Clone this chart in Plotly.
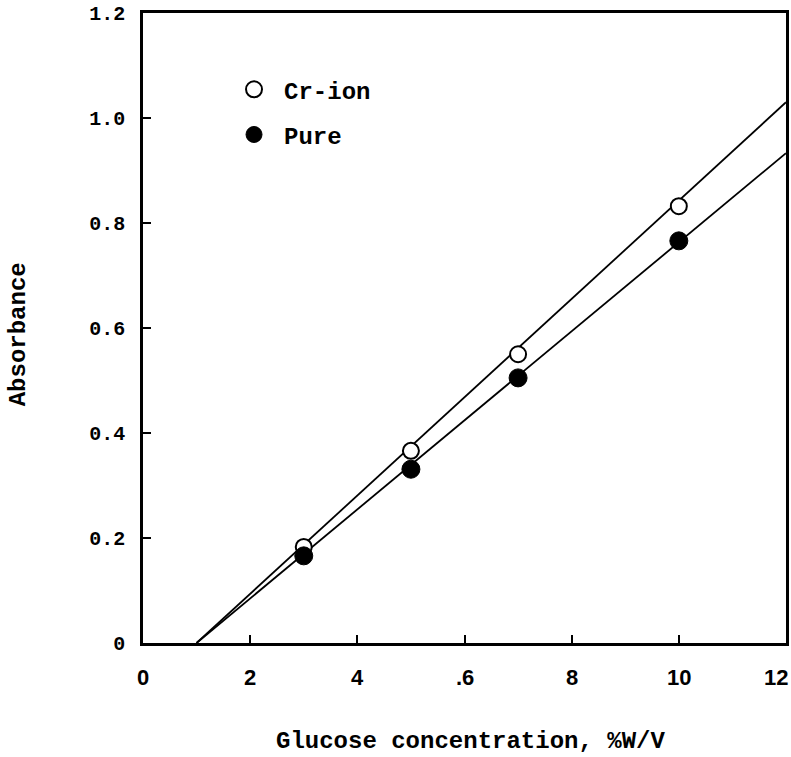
import plotly.graph_objects as go

# Data
conc = [3, 5, 7, 10]
cr_ion = [0.183, 0.366, 0.550, 0.832]
pure = [0.166, 0.331, 0.505, 0.766]

# Fitted lines (regression) endpoints
fit_x = [1.0, 12.0]
cr_fit_y = [0.0, 1.03]
pure_fit_y = [0.0, 0.933]

x_ticks = [0, 2, 4, 6, 8, 10, 12]
x_tick_labels = ["0", "2", "4", ".6", "8", "10", "12"]
y_ticks = [0, 0.2, 0.4, 0.6, 0.8, 1.0, 1.2]
y_tick_labels = ["0", "0.2", "0.4", "0.6", "0.8", "1.0", "1.2"]

MONO = "Liberation Mono"
SANS = "Liberation Sans"

fig = go.Figure()
fig.add_trace(go.Scatter(x=fit_x, y=cr_fit_y, mode="lines",
                         line=dict(color="black", width=1.8), showlegend=False, hoverinfo="skip"))
fig.add_trace(go.Scatter(x=fit_x, y=pure_fit_y, mode="lines",
                         line=dict(color="black", width=1.8), showlegend=False, hoverinfo="skip"))
fig.add_trace(go.Scatter(x=conc, y=cr_ion, mode="markers", name="Cr-ion",
                         legendgroup="a",
                         marker=dict(symbol="circle", size=16, color="white",
                                     line=dict(color="black", width=2))))
fig.add_trace(go.Scatter(x=conc, y=pure, mode="markers", name="Pure",
                         legendgroup="b",
                         marker=dict(symbol="circle", size=18, color="black",
                                     line=dict(color="black", width=1))))

# x tick labels as annotations (last one sits inside the right edge as in the original)
annotations = []
for i, (v, t) in enumerate(zip(x_ticks, x_tick_labels)):
    annotations.append(dict(x=v, y=0, xref="x", yref="paper", text=t, showarrow=False,
                            yanchor="top", xanchor="center", yshift=-20,
                            xshift=-10 if i == len(x_ticks) - 1 else 0,
                            font=dict(family=SANS, size=22, color="black", weight="bold")))
annotations.append(dict(x=0.51, y=0, xref="paper", yref="paper",
                        text="Glucose concentration, %W/V", showarrow=False,
                        yanchor="middle", xanchor="center", yshift=-98,
                        font=dict(family=MONO, size=24, color="black", weight="bold")))
annotations.append(dict(x=0, y=0.49, xref="paper", yref="paper",
                        text="Absorbance", showarrow=False, textangle=-90,
                        yanchor="middle", xanchor="center", xshift=-125,
                        font=dict(family=MONO, size=24, color="black", weight="bold")))

fig.update_layout(
    width=791, height=757,
    margin=dict(l=143, r=5, t=13, b=114),
    paper_bgcolor="white", plot_bgcolor="white",
    font=dict(family=MONO, color="black", size=16),
    showlegend=True,
    legend=dict(x=0.126, y=0.914, xanchor="left", yanchor="top",
                bgcolor="rgba(0,0,0,0)", traceorder="grouped", tracegroupgap=11,
                itemwidth=50,
                font=dict(family=MONO, size=24, color="black", weight="bold")),
    annotations=annotations,
    xaxis=dict(range=[0, 12], tickvals=x_ticks, showticklabels=False,
               showgrid=False, zeroline=False, showline=True, linecolor="black",
               linewidth=2.5, mirror=True, ticks="inside", ticklen=8, tickwidth=2,
               tickcolor="black", automargin=False),
    yaxis=dict(range=[0, 1.2], tickvals=y_ticks, ticktext=y_tick_labels,
               showgrid=False, zeroline=False, showline=True, linecolor="black",
               linewidth=2.5, mirror=True, ticks="inside", ticklen=8, tickwidth=2,
               tickcolor="black", automargin=False, ticklabelstandoff=11,
               ticklabeloverflow="allow",
               tickfont=dict(family=MONO, size=20, color="black", weight="bold")),
)

# remove the page's default body margin so the figure fills the window exactly
fig.write_html("out.html",
               config={"displayModeBar": False},
               post_script="document.body.style.margin='0';document.body.style.overflow='hidden';")
